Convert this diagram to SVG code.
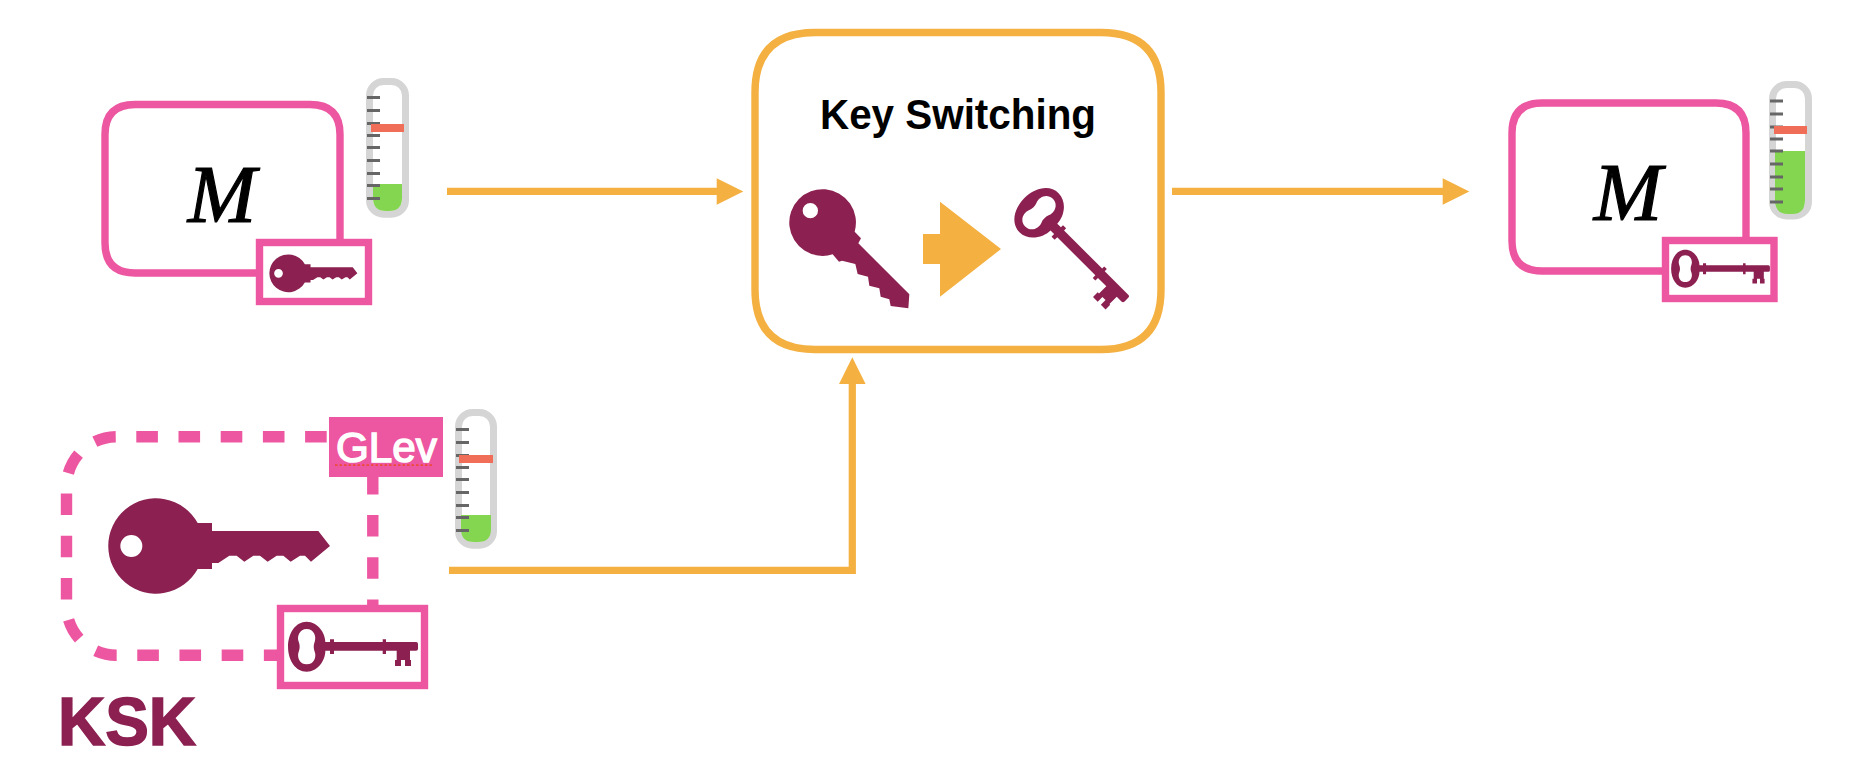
<svg xmlns="http://www.w3.org/2000/svg" xmlns:xlink="http://www.w3.org/1999/xlink" width="1856" height="778" viewBox="0 0 1856 778">
<style>
.pink{fill:#fff;stroke:#ED56A0;stroke-width:7.4}
.maroon{fill:#8B2051;fill-rule:evenodd}
.orange{fill:#F4B040}
.line{fill:none;stroke:#F4B040;stroke-width:7.2}
.dash{fill:none;stroke:#ED56A0;stroke-width:11.4;stroke-dasharray:21.6 20.6}
.m{font:italic 82px "Liberation Serif",serif;fill:#000;stroke:#000;stroke-width:1.2}
.tube{fill:#fff;stroke:#D5D5D5;stroke-width:7}
.tick{fill:#666}
.red{fill:#F06E57}
.green{fill:#84D651}
</style>
<defs>
<path id="key" class="maroon" d="M125,-69A143,143 0 1 0 125,69H168V51H187L220,29H242L265,47L292,29H312L335,47L362,29H382L404,47L432,29H447L465,47L522,0L487,-45H168V-69ZM-41,0A33,33 0 1 0 -107,0A33,33 0 1 0 -41,0Z"/>
<path id="skey" class="maroon" d="M0,-75C34,-75 56,-40 56,-14H70V-22H82V-14H228V-22H238V-14H328Q334,-14 334,-8V6Q334,12 328,12H310V40H313V58H295V40H283V58H265V40H270V12H238V22H228V12H82V22H70V12H56C56,40 34,75 0,75C-34,75 -56,40 -56,0C-56,-40 -34,-75 0,-75ZM0,-53C-22,-53 -30,-30 -24,-15C-20,-6 -20,6 -24,15C-30,30 -22,53 0,53C22,53 30,30 24,15C20,6 20,-6 24,-15C30,-30 22,-53 0,-53Z"/>
<g id="gauge-ticks">
<rect class="tick" x="367" y="96" width="13" height="3"/>
<rect class="tick" x="367" y="109" width="13" height="3"/>
<rect class="tick" x="367" y="122" width="13" height="3"/>
<rect class="tick" x="367" y="134" width="13" height="3"/>
<rect class="tick" x="367" y="146" width="13" height="3"/>
<rect class="tick" x="367" y="159" width="13" height="3"/>
<rect class="tick" x="367" y="172" width="13" height="3"/>
<rect class="tick" x="367" y="184" width="13" height="3"/>
<rect class="tick" x="367" y="197" width="13" height="3"/>
</g>
</defs>
<rect width="1856" height="778" fill="#fff"/>

<g id="connectors">
<path class="line" d="M447,191.3H718"/>
<polygon class="orange" points="716.7,178.3 743.3,191.5 716.7,204.7"/>
<path class="line" d="M1172,191.3H1444"/>
<polygon class="orange" points="1442.7,178.3 1469.3,191.5 1442.7,204.7"/>
<path class="line" d="M449,570.3H852.3V383"/>
<polygon class="orange" points="839,384 852.3,357.3 865.6,384"/>
</g>

<g id="node-m-input">
<path class="pink" d="M135,104.5H310C330,104.5 340,114.5 340,134.5V243C340,263 330,273 310,273H135C115,273 105,263 105,243V134.5C105,114.5 115,104.5 135,104.5Z"/>
<text class="m" x="222" y="222" text-anchor="middle">M</text>
</g>
<g id="node-m-input-key">
<rect class="pink" x="259.5" y="242.5" width="109" height="59"/>
<use xlink:href="#key" transform="translate(288.3,273.3) scale(.1323)"/>
</g>
<g id="gauge-input">
<rect class="tube" x="369.5" y="81.5" width="36" height="132.7" rx="14"/>
<path class="green" d="M373,184H402V198Q402,211 389,211H386Q373,211 373,198Z"/>
<use xlink:href="#gauge-ticks"/>
<rect class="red" x="371" y="124" width="33" height="8"/>
</g>

<g id="node-key-switching">
<path d="M815,32.5H1101C1141,32.5 1161,52.5 1161,92.5V289.5C1161,329.5 1141,349.5 1101,349.5H815C775,349.5 755,329.5 755,289.5V92.5C755,52.5 775,32.5 815,32.5Z" fill="#fff" stroke="#F4B040" stroke-width="7.4"/>
<text x="820" y="129" textLength="276" lengthAdjust="spacingAndGlyphs" style="font:bold 42px 'Liberation Sans',sans-serif" fill="#000">Key Switching</text>
<path class="maroon" transform="translate(740,20) scale(.33333)" d="M344,635L363,655L355,670L508,823L505,865L452,858L448,838L422,830L418,805L388,797L384,770L353,762L346,732L306,722L297,725L278,703A100,100 0 1 1 344,635ZM234,572A23,23 0 1 0 188,572A23,23 0 1 0 234,572Z"/>
<polygon class="orange" points="923,234 940,234 940,201.7 1001,249 940,296.7 940,264 923,264"/>
<use xlink:href="#skey" transform="translate(1039,212.7) rotate(45) scale(.369)"/>
</g>

<g id="node-m-output">
<path class="pink" d="M1542,103H1716C1736,103 1746,113 1746,133V241C1746,261 1736,271 1716,271H1542C1522,271 1512,261 1512,241V133C1512,113 1522,103 1542,103Z"/>
<text class="m" x="1628" y="219.5" text-anchor="middle">M</text>
</g>
<g id="node-m-output-key">
<rect class="pink" x="1665.5" y="240.5" width="108.5" height="58"/>
<use xlink:href="#skey" transform="translate(1685.3,268.7) scale(.2533)"/>
</g>
<g id="gauge-output">
<rect class="tube" x="1772.5" y="84.5" width="36" height="131.5" rx="14"/>
<path class="green" d="M1775,151H1805V200Q1805,214 1792,214H1788Q1775,214 1775,200Z"/>
<use xlink:href="#gauge-ticks" transform="translate(1403,3.5)"/>
<rect class="red" x="1774" y="126" width="33" height="8"/>
</g>

<g id="node-ksk">
<path class="dash" d="M326.7,436.7H116.5A50,50 0 0 0 66.5,486.7V605.3A50,50 0 0 0 116.5,655.3H300"/>
<path class="dash" d="M372.8,621V470"/>
<use xlink:href="#key" transform="translate(156,546) scale(.3333)"/>
<text x="58" y="744.5" style="font:bold 68px 'Liberation Sans',sans-serif" fill="#8B2051" stroke="#8B2051" stroke-width="1.6" textLength="138" lengthAdjust="spacingAndGlyphs">KSK</text>
</g>
<g id="node-ksk-key">
<rect class="pink" x="280.5" y="608.5" width="144" height="77"/>
<use xlink:href="#skey" transform="translate(306.7,646.7) scale(.3333)"/>
</g>
<g id="node-glev">
<rect x="329" y="417" width="114" height="60" fill="#ED56A0"/>
<text x="336" y="462" textLength="101" lengthAdjust="spacingAndGlyphs" style="font:43px 'Liberation Sans',sans-serif" fill="#fff" stroke="#fff" stroke-width="1.5">GLev</text>
<path d="M335,465.2H434" fill="none" stroke="#EE4A3A" stroke-width="1.8" stroke-dasharray="2.5 2"/>
</g>
<g id="gauge-ksk">
<rect class="tube" x="458.5" y="412.5" width="35" height="132.7" rx="14"/>
<path class="green" d="M461,515H491V529Q491,542 478,542H474Q461,542 461,529Z"/>
<use xlink:href="#gauge-ticks" transform="translate(89,332)"/>
<rect class="red" x="459" y="455" width="34" height="8"/>
</g>
</svg>
